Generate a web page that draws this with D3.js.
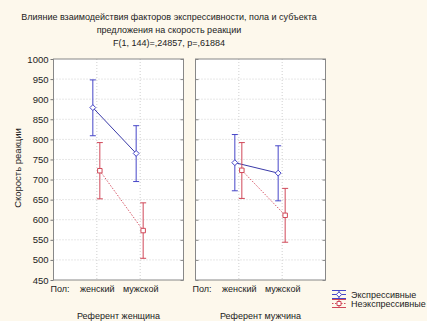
<!DOCTYPE html>
<html><head><meta charset="utf-8">
<script src="https://cdn.jsdelivr.net/npm/d3@7/dist/d3.min.js"></script>
<style>
html,body{margin:0;padding:0;background:#fdf8ec;}
svg{display:block;font-family:"Liberation Sans",Arial,sans-serif;}
</style></head><body>
<svg id="chart" width="427" height="321"></svg>
<script>
const titleLines = ["Влияние взаимодействия факторов экспрессивности, пола и субъекта",
  "предложения на скорость реакции", "F(1, 144)=,24857, p=,61884"];
const categories = ["женский", "мужской"];
const panels = ["Референт женщина", "Референт мужчина"];
const seriesNames = ["Экспрессивные", "Неэкспрессивные"];
const yTicks = [450, 500, 550, 600, 650, 700, 750, 800, 850, 900, 950, 1000];
const yLabel = "Скорость реакции";
const factorLabel = "Пол:";

// panel 1: Референт женщина
const womenExprMean = [879, 765];
const womenExprLow = [809, 695];
const womenExprHigh = [948, 834];
const womenNonMean = [722, 573];
const womenNonLow = [652, 504];
const womenNonHigh = [792, 642];
// panel 2: Референт мужчина
const menExprMean = [742, 716];
const menExprLow = [672, 647];
const menExprHigh = [812, 784];
const menNonMean = [723, 611];
const menNonLow = [653, 544];
const menNonHigh = [792, 678];

const colors = {expr: "#4646c8", exprLine: "#3a3aa8", non: "#d04858", nonLine: "#d85a6a"};

const panelData = [
  [{mean: womenExprMean, low: womenExprLow, high: womenExprHigh},
   {mean: womenNonMean, low: womenNonLow, high: womenNonHigh}],
  [{mean: menExprMean, low: menExprLow, high: menExprHigh},
   {mean: menNonMean, low: menNonLow, high: menNonHigh}]
];

const svg = d3.select("#chart");
const plotTop = 59, plotBottom = 280;
const panelLefts = [53.5, 195.5];
const panelW = 130;

const y = d3.scaleLinear().domain([450, 1000]).range([plotBottom, plotTop]);

// title
svg.append("g").selectAll("text").data(titleLines).join("text")
  .attr("x", 169).attr("y", (d, i) => 20 + i * 13)
  .attr("text-anchor", "middle").attr("font-size", 9).attr("fill", "#222")
  .text(d => d);

// y label
svg.append("text").attr("transform", "translate(21,168) rotate(-90)")
  .attr("text-anchor", "middle").attr("font-size", 9.5).attr("fill", "#222").text(yLabel);

const seriesOffset = d3.scalePoint().domain(seriesNames).range([-4, 3]);
const seriesColor = [colors.expr, colors.non];
const lineColor = [colors.exprLine, colors.nonLine];

panels.forEach((pname, pi) => {
  const x0 = panelLefts[pi];
  const g = svg.append("g").attr("transform", `translate(${x0},0)`);
  const x = d3.scalePoint().domain(categories).range([panelW / 3, 2 * panelW / 3]);

  g.append("rect").attr("x", 0).attr("y", plotTop).attr("width", panelW).attr("height", plotBottom - plotTop)
    .attr("fill", "#fff");

  // grid
  g.append("g").selectAll("line").data(yTicks.slice(1, -1)).join("line")
    .attr("x1", 0).attr("x2", panelW).attr("y1", d => y(d)).attr("y2", d => y(d))
    .attr("stroke", "#cfcfcf").attr("stroke-width", 1).attr("stroke-dasharray", "1,2");
  g.append("g").selectAll("line").data(categories).join("line")
    .attr("x1", d => x(d)).attr("x2", d => x(d)).attr("y1", plotTop).attr("y2", plotBottom)
    .attr("stroke", "#cfcfcf").attr("stroke-width", 1).attr("stroke-dasharray", "1,2");

  // axes
  if (pi === 0) {
    const ax = g.append("g").call(d3.axisLeft(y).tickValues(yTicks).tickFormat(d3.format("d")).tickSize(3).tickPadding(2));
    ax.select(".domain").remove();
    ax.selectAll("line").attr("stroke", "#777");
    ax.selectAll("text").attr("font-size", 9.5).attr("fill", "#222").attr("font-family", "Liberation Sans, Arial, sans-serif");
  } else {
    const ax = g.append("g").call(d3.axisRight(y).tickValues(yTicks).tickSize(3).tickFormat(""));
    ax.select(".domain").remove();
    ax.selectAll("line").attr("stroke", "#888");
  }
  const axr = g.append("g").attr("transform", `translate(${panelW},0)`)
    .call(d3.axisLeft(y).tickValues(yTicks).tickSize(3).tickFormat(""));
  axr.select(".domain").remove();
  axr.selectAll("line").attr("stroke", "#888");

  const xa = g.append("g").attr("transform", `translate(0,${plotBottom})`)
    .call(d3.axisBottom(x).tickSize(0).tickPadding(6));
  xa.select(".domain").remove();
  xa.selectAll("text").attr("font-size", 9).attr("fill", "#222").attr("font-family", "Liberation Sans, Arial, sans-serif");

  g.append("rect").attr("x", 0).attr("y", plotTop).attr("width", panelW).attr("height", plotBottom - plotTop)
    .attr("fill", "none").attr("stroke", "#888").attr("stroke-width", 1);

  g.append("text").attr("x", -3).attr("y", 292).attr("font-size", 9).attr("fill", "#222").text(factorLabel);
  g.append("text").attr("x", panelW / 2).attr("y", 319).attr("text-anchor", "middle")
    .attr("font-size", 9).attr("fill", "#222").text(pname);

  panelData[pi].forEach((s, si) => {
    const sx = c => x(c) + seriesOffset(seriesNames[si]);
    const pts = categories.map((c, ci) => ({c, m: s.mean[ci], lo: s.low[ci], hi: s.high[ci]}));
    g.append("path").datum(pts)
      .attr("d", d3.line().x(d => sx(d.c)).y(d => y(d.m)))
      .attr("fill", "none").attr("stroke", lineColor[si]).attr("stroke-width", 1)
      .attr("stroke-dasharray", si === 1 ? "1.5,1.5" : null);
    const eb = g.append("g").attr("stroke", seriesColor[si]).attr("stroke-width", 1);
    eb.selectAll(".v").data(pts).join("line")
      .attr("x1", d => sx(d.c)).attr("x2", d => sx(d.c)).attr("y1", d => y(d.lo)).attr("y2", d => y(d.hi));
    eb.selectAll(".t").data(pts).join("line")
      .attr("x1", d => sx(d.c) - 3).attr("x2", d => sx(d.c) + 3).attr("y1", d => y(d.hi)).attr("y2", d => y(d.hi));
    eb.selectAll(".b").data(pts).join("line")
      .attr("x1", d => sx(d.c) - 3).attr("x2", d => sx(d.c) + 3).attr("y1", d => y(d.lo)).attr("y2", d => y(d.lo));
    const sym = si === 0 ? d3.symbol(d3.symbolDiamond2, 22) : d3.symbol(d3.symbolSquare, 20);
    g.append("g").selectAll("path").data(pts).join("path")
      .attr("transform", d => `translate(${sx(d.c)},${y(d.m)})`)
      .attr("d", sym).attr("fill", "#fff").attr("stroke", seriesColor[si]).attr("stroke-width", 1);
  });
});

// legend
const lg = svg.append("g");
seriesNames.forEach((name, i) => {
  const cy = 294.5 + i * 9;
  const c = seriesColor[i];
  const x1 = 332, x2 = 346, cx = 339;
  lg.append("line").attr("x1", x1).attr("x2", x2).attr("y1", cy - 4).attr("y2", cy - 4).attr("stroke", c);
  lg.append("line").attr("x1", x1).attr("x2", x2).attr("y1", cy + 4).attr("y2", cy + 4).attr("stroke", c);
  lg.append("line").attr("x1", x1).attr("x2", x2).attr("y1", cy).attr("y2", cy).attr("stroke", c)
    .attr("stroke-dasharray", i === 1 ? "1.5,1.5" : null);
  lg.append("line").attr("x1", cx).attr("x2", cx).attr("y1", cy - 4).attr("y2", cy + 4).attr("stroke", c);
  lg.append("path").attr("transform", `translate(${cx},${cy})`)
    .attr("d", i === 0 ? d3.symbol(d3.symbolDiamond2, 18)() : d3.symbol(d3.symbolSquare, 16)())
    .attr("fill", "#fff").attr("stroke", c);
  lg.append("text").attr("x", 351).attr("y", cy + 3).attr("font-size", 9).attr("fill", "#222").text(name);
});
</script></body></html>
